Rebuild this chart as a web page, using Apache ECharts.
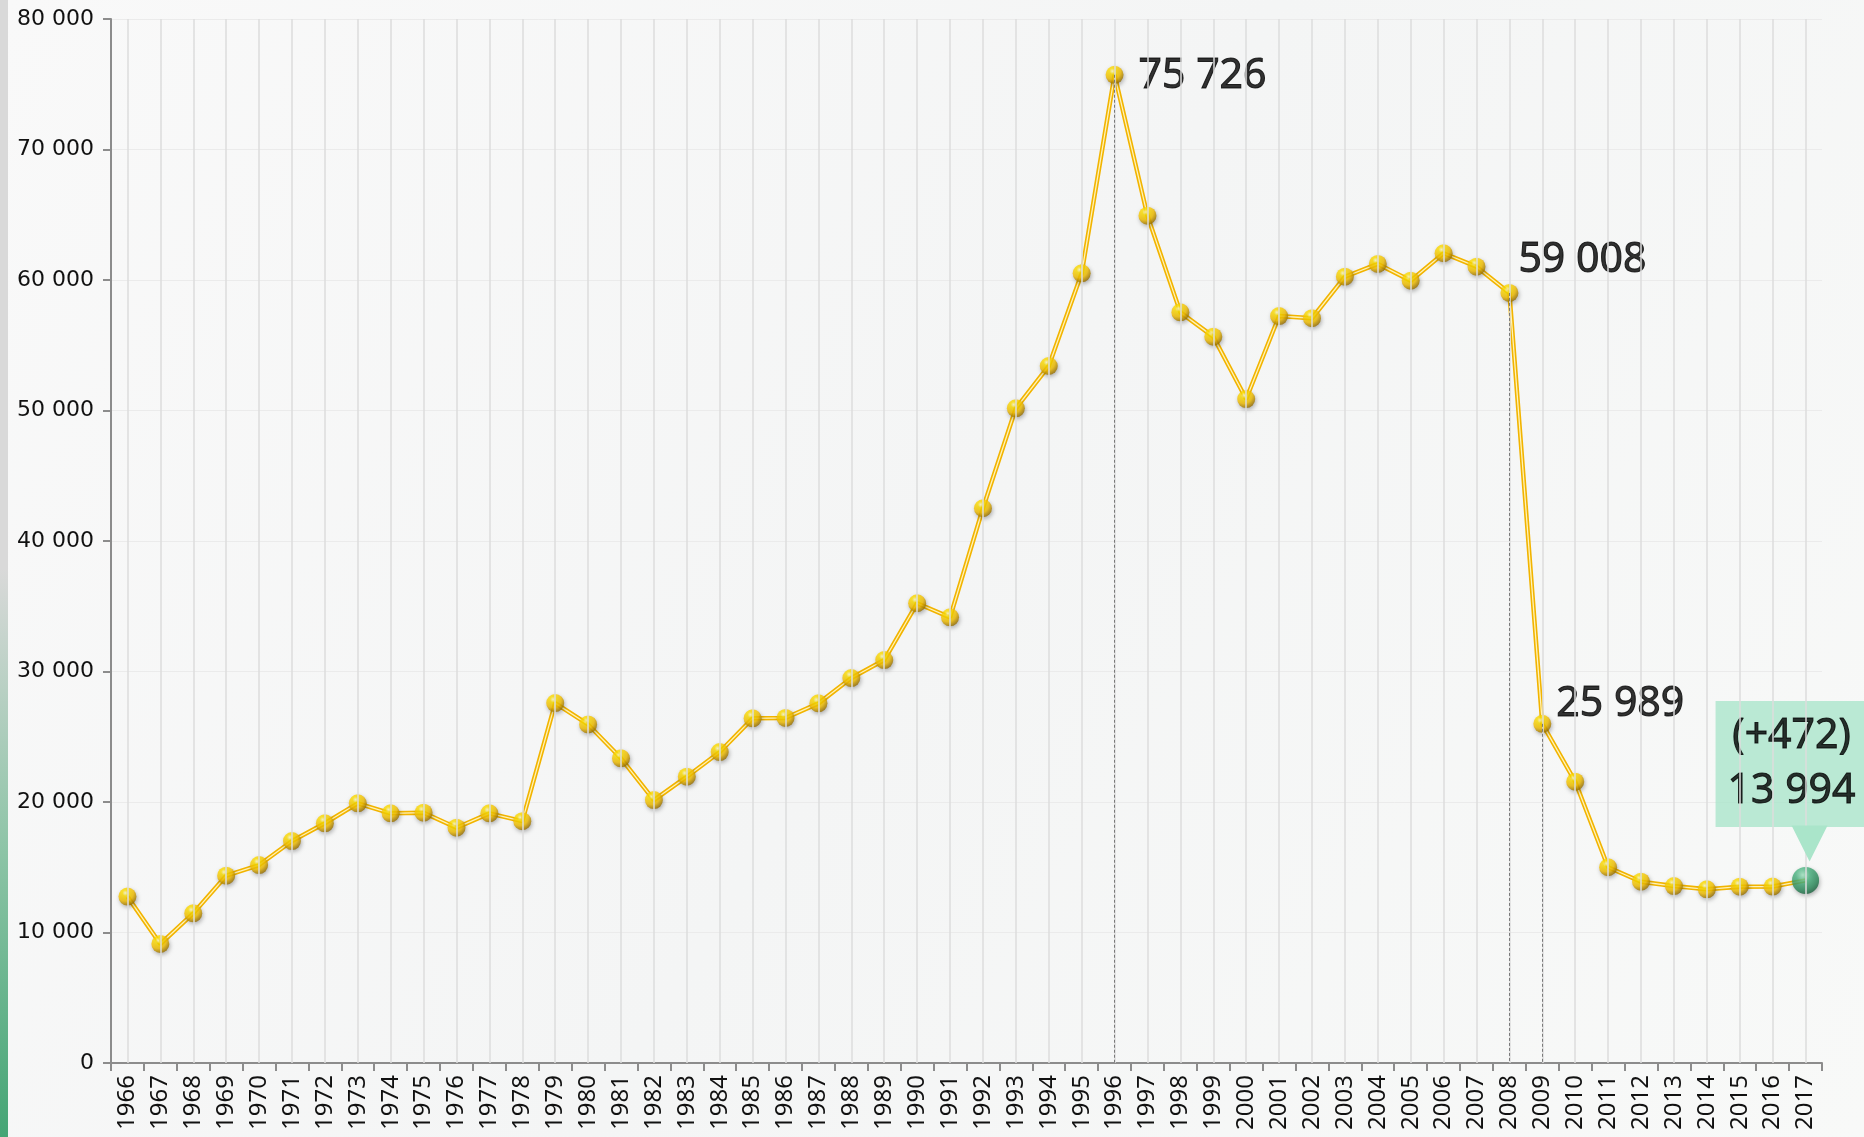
<!DOCTYPE html>
<html>
<head>
<meta charset="utf-8">
<script src="https://cdn.jsdelivr.net/npm/echarts@6/dist/echarts.min.js"></script>
<style>
  html, body { margin: 0; padding: 0; background: #f7f7f7; }
  #chart { width: 1864px; height: 1137px; }
</style>
</head>
<body>
<div id="chart"></div>
<script>
// ---- data ----
const years = ['1966','1967','1968','1969','1970','1971','1972','1973','1974','1975',
  '1976','1977','1978','1979','1980','1981','1982','1983','1984','1985',
  '1986','1987','1988','1989','1990','1991','1992','1993','1994','1995',
  '1996','1997','1998','1999','2000','2001','2002','2003','2004','2005',
  '2006','2007','2008','2009','2010','2011','2012','2013','2014','2015',
  '2016','2017'];
const values = [12750, 9120, 11470, 14350, 15170, 17010, 18370, 19900, 19130, 19180,
  18030, 19130, 18530, 27580, 25940, 23350, 20150, 21940, 23830, 26410,
  26440, 27560, 29500, 30880, 35230, 34150, 42510, 50170, 53410, 60510,
  75726, 64930, 57520, 55660, 50880, 57240, 57070, 60250, 61230, 59950,
  62050, 61020, 59008, 25989, 21560, 15000, 13890, 13560, 13310, 13510,
  13522, 13994];
const yTicks = { min: 0, max: 80000, interval: 10000 };
const annotatedYears = ['1996', '2008', '2009'];
const dropLineYears = ['1996', '2008', '2009'];
const highlightYear = '2017';

// ---- helpers ----
const fmt = n => String(n).replace(/\B(?=(\d{3})+(?!\d))/g, ' ');
const FONT = '"Noto Sans", "DejaVu Sans", sans-serif';
const AXISFONT = '"DejaVu Sans", "Noto Sans", sans-serif';

const goldBall = {
  type: 'radial', x: 0.38, y: 0.3, r: 0.75,
  colorStops: [
    { offset: 0, color: '#fffbc8' },
    { offset: 0.22, color: '#ffe000' },
    { offset: 0.6, color: '#f5c000' },
    { offset: 1, color: '#8a6300' }
  ]
};
const greenBall = {
  type: 'radial', x: 0.4, y: 0.3, r: 0.75,
  colorStops: [
    { offset: 0, color: '#a9ecc8' },
    { offset: 0.35, color: '#4cb683' },
    { offset: 0.75, color: '#2a8a5a' },
    { offset: 1, color: '#175c3a' }
  ]
};
const calloutColor = '#aae5ca';

const labelCfg = {
  '1996': { position: 'right', distance: 5, offset: [10, 2] },
  '2008': { position: 'right', distance: 5, offset: [-5, -33] },
  '2009': { position: 'right', distance: 5, offset: [0, -20] }
};

const lastIdx = years.indexOf(highlightYear);
const diff = values[lastIdx] - values[lastIdx - 1];

const pointData = values.map((v, i) => {
  const y = years[i];
  const item = { value: v };
  if (annotatedYears.includes(y)) {
    item.label = Object.assign({
      show: true, fontSize: 41, color: '#000', fontFamily: FONT,
      textBorderColor: '#000', textBorderWidth: 1,
      formatter: () => fmt(v)
    }, labelCfg[y]);
  }
  if (y === highlightYear) {
    item.symbolSize = 27;
    item.itemStyle = { color: greenBall };
    item.label = {
      show: true, position: 'top', distance: 40, offset: [-14, 0],
      fontSize: 41, lineHeight: 55, color: '#000', fontFamily: FONT,
      textBorderColor: '#000', textBorderWidth: 1,
      backgroundColor: calloutColor, padding: [8, 12, 8, 12],
      align: 'center',
      formatter: () => '(' + (diff >= 0 ? '+' : '') + diff + ')\n' + fmt(v)
    };
  }
  return item;
});

const dropLines = dropLineYears.map(y => {
  const i = years.indexOf(y);
  return [{ coord: [y, values[i]] }, { coord: [y, 0] }];
});
const gridLines = years.map(y => ({ xAxis: y }));

const chart = echarts.init(document.getElementById('chart'), null, { renderer: 'canvas' });
chart.setOption({
  animation: false,
  backgroundColor: {
    type: 'linear', x: 0, y: 0, x2: 1, y2: 1,
    colorStops: [
      { offset: 0, color: '#f9f9f9' },
      { offset: 0.5, color: '#f4f5f5' },
      { offset: 1, color: '#f8f9f8' }
    ]
  },
  graphic: [{
    type: 'rect', left: 0, top: 0, z: 100,
    shape: { width: 8, height: 1137 },
    style: {
      fill: {
        type: 'linear', x: 0, y: 0, x2: 0, y2: 1,
        colorStops: [
          { offset: 0, color: '#d9d9d9' },
          { offset: 0.5, color: '#d9d9d9' },
          { offset: 0.75, color: '#8cc4a6' },
          { offset: 1, color: '#45a575' }
        ]
      }
    }
  }],
  grid: { left: 111, right: 42, top: 19, bottom: 74, containLabel: false },
  xAxis: {
    type: 'category',
    data: years,
    boundaryGap: true,
    axisLine: { lineStyle: { color: '#8c8c8c', width: 2 } },
    axisTick: { show: true, length: 8, lineStyle: { color: '#8c8c8c', width: 2 } },
    axisLabel: { rotate: 90, fontSize: 24, color: '#111', margin: 12, interval: 0, fontFamily: FONT },
    splitLine: { show: false }
  },
  yAxis: {
    type: 'value',
    min: yTicks.min, max: yTicks.max, interval: yTicks.interval,
    axisLine: { show: true, lineStyle: { color: '#8c8c8c', width: 2 } },
    axisTick: { show: true, length: 8, lineStyle: { color: '#8c8c8c', width: 2 } },
    axisLabel: { fontSize: 22, color: '#111', margin: 17, fontFamily: AXISFONT, formatter: v => fmt(v) },
    splitLine: { show: true, lineStyle: { color: '#ebebeb', width: 1 } }
  },
  series: [
    {
      type: 'line', data: [], z: 0, silent: true,
      markLine: {
        silent: true, symbol: 'none', label: { show: false },
        lineStyle: { color: '#dcdcdc', type: 'solid', width: 1.5 },
        data: gridLines
      }
    },
    {
      type: 'line', data: values, showSymbol: false, z: 2,
      lineStyle: { color: '#f2b400', width: 4.5 },
      markLine: {
        silent: true, symbol: 'none', label: { show: false },
        lineStyle: { color: '#7a7a7a', type: [3, 2], width: 1 },
        data: dropLines
      }
    },
    {
      type: 'line', data: values, showSymbol: false, z: 3,
      lineStyle: { color: '#fff3b8', width: 1.3 }
    },
    {
      type: 'scatter', data: pointData, z: 4,
      symbol: 'circle', symbolSize: 18,
      itemStyle: {
        color: goldBall,
        shadowBlur: 4, shadowColor: 'rgba(0,0,0,0.35)', shadowOffsetX: 1, shadowOffsetY: 2
      },
      markPoint: {
        silent: true,
        data: [{
          coord: [highlightYear, values[lastIdx]],
          symbol: 'path://M0,0L36,0L18,36Z',
          symbolSize: [36, 36],
          symbolOffset: [4, -37],
          itemStyle: { color: calloutColor },
          label: { show: false }
        }]
      }
    }
  ]
});
</script>
</body>
</html>
